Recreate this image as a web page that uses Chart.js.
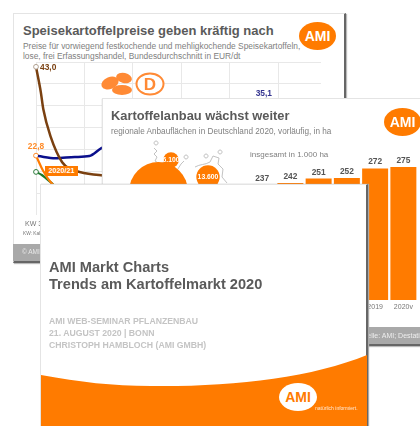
<!DOCTYPE html>
<html lang="de"><head><meta charset="utf-8">
<script src="https://cdn.jsdelivr.net/npm/chart.js@4"></script>
<style>
html,body{margin:0;padding:0;background:#fff}
#root{position:absolute;left:0;top:0;width:420px;height:426px;overflow:hidden;background:#fff;font-family:"Liberation Sans",Arial,sans-serif;filter:blur(.55px)}
#root>*{position:absolute}
.t{white-space:nowrap;line-height:1}
.box{background:#fff;box-sizing:border-box}
.logo{background:#ff7b00;border-radius:50%;color:#fff;font-weight:bold;text-align:center}
.title{font-weight:bold;color:#5a5a5a}
.sub{color:#808080}
</style></head><body>
<div id="root">
  <!-- slide 1 -->
  <div class="box" style="left:13px;top:13px;width:333px;height:250px;border:1px solid #e4e4e4;border-right:2px solid #666;border-bottom:2px solid #666;box-shadow:1px 1px 1px #bbb"></div>
  <div class="t title" style="left:23px;top:24px;font-size:13px">Speisekartoffelpreise geben kräftig nach</div>
  <div class="t sub" style="left:23px;top:42px;font-size:8.4px">Preise für vorwiegend festkochende und mehligkochende Speisekartoffeln,</div>
  <div class="t sub" style="left:23px;top:52px;font-size:8.4px">lose, frei Erfassungshandel, Bundesdurchschnitt in EUR/dt</div>
  <div class="logo t" style="left:299px;top:22px;width:37px;height:28px;line-height:28px;font-size:14px">AMI</div>
  <canvas id="lineChart" width="320" height="170" style="left:20px;top:52px"></canvas>
  <svg width="70" height="40" style="left:98px;top:66px">
    <ellipse cx="12" cy="17" rx="9" ry="6" fill="#ff8a35" transform="rotate(-22 12 17)"/>
    <ellipse cx="26" cy="12" rx="8" ry="5" fill="#ff8a35" transform="rotate(12 26 12)"/>
    <ellipse cx="24" cy="24" rx="10" ry="5" fill="#ff8a35"/>
    <ellipse cx="52" cy="18" rx="13.5" ry="10.5" fill="#fff" stroke="#ff8a35" stroke-width="2"/>
    <text x="52" y="24" font-size="17" font-weight="bold" fill="#ff8a35" text-anchor="middle" font-family="Liberation Sans">D</text>
  </svg>
  <div class="t" style="left:45px;top:166px;width:33px;height:10px;line-height:10px;background:#ff7b00;color:#fff;font-size:7.2px;font-weight:bold;text-align:center">2020/21</div>
  <div class="t" style="left:25px;top:220px;font-size:7px;color:#777">KW 33</div>
  <div class="t" style="left:23px;top:232px;font-size:4.8px;color:#777">KW: Kalenderwoche</div>
  <div style="left:13px;top:244px;width:331px;height:17px;background:#a9a9a9"></div>
  <div class="t" style="left:22px;top:249px;font-size:6.5px;color:#e8e8e8">© AMI</div>

  <!-- slide 2 -->
  <div class="box" style="left:102px;top:98px;width:330px;height:248px;border:1px solid #e4e4e4;border-bottom:2px solid #666;box-shadow:0 1px 1px #bbb"></div>
  <div class="t title" style="left:111px;top:110px;font-size:12.85px">Kartoffelanbau wächst weiter</div>
  <div class="t sub" style="left:111px;top:128px;font-size:8.2px">regionale Anbauflächen in Deutschland 2020, vorläufig, in ha</div>
  <div class="logo t" style="left:384px;top:108px;width:37px;height:28px;line-height:28px;font-size:14px">AMI</div>
  <div class="t" style="left:250px;top:151px;font-size:8px;color:#808080">insgesamt in 1.000 ha</div>
  <svg width="130" height="50" style="left:140px;top:140px" fill="none" stroke="#bbb" stroke-width=".9">
    <path d="M14,8 l3,3 -3,3 3,3 -2,4 5,3 7,-3 M16,5 a2,2 0 1 1 .1,0"/>
    <path d="M36,32 l5,-8 3,-3 M46,19 a2,2 0 1 1 .1,0"/>
    <path d="M55,27 c5,-3 10,-2 15,-5 l3,-6 6,2 -1,6 5,5 -1,8 5,6 M66,18 a2,2 0 1 1 .1,0 M80,14 a2,2 0 1 1 .1,0"/>
  </svg>
  <canvas id="bubbleChart" width="130" height="90" style="left:110px;top:140px"></canvas>
  <canvas id="barChart" width="180" height="165" style="left:240px;top:150px"></canvas>
  <div style="left:103px;top:327px;width:317px;height:17px;background:#a9a9a9"></div>
  <div class="t" style="left:358px;top:332px;font-size:7px;color:#eee">Quelle: AMI; Destatis</div>

  <!-- slide 3 -->
  <div class="box" style="left:40px;top:184px;width:328px;height:250px;border-top:1px solid #e4e4e4;border-left:1px solid #e4e4e4;border-right:2px solid #666;box-shadow:1px 0 1px #aaa"></div>
  <div class="t title" style="left:49px;top:260px;font-size:14.6px">AMI Markt Charts</div>
  <div class="t title" style="left:49px;top:277px;font-size:14.6px">Trends am Kartoffelmarkt 2020</div>
  <div class="t" style="left:49px;top:317px;font-size:8.7px;font-weight:bold;color:#c4c4c4">AMI WEB-SEMINAR PFLANZENBAU</div>
  <div class="t" style="left:49px;top:329px;font-size:8.7px;font-weight:bold;color:#c4c4c4">21. AUGUST 2020 | BONN</div>
  <div class="t" style="left:49px;top:341px;font-size:8.7px;font-weight:bold;color:#c4c4c4">CHRISTOPH HAMBLOCH (AMI GMBH)</div>
  <svg width="326" height="80" style="left:40.5px;top:350px">
    <path d="M0,25 C40,32 70,36 110,36 C190,37 270,28 326,5 L326,80 L0,80 Z" fill="#ff7b00"/>
  </svg>
  <div class="logo t" style="left:279px;top:383px;width:38px;height:28px;line-height:28px;font-size:14px;background:#fff;color:#ff7b00">AMI</div>
  <div class="t" style="left:315px;top:406px;font-size:5px;color:#ffe9d4">natürlich informiert.</div>
</div>
<script>
const FONT = '"Liberation Sans", Arial, sans-serif';

// price lines: x = week offset, y = EUR/dt
const brownWeeks = [0, 1, 1.5, 3, 5.4, 7, 9, 13, 20];
const brownValues = [43.0, 37.2, 33.4, 27.2, 21.3, 19.8, 19.1, 18.4, 18.0];
const blueWeeks = [0.4, 4, 8, 11, 13.5, 20, 30, 40, 47];
const blueValues = [22.7, 22.2, 22.5, 22.7, 24.5, 27.0, 30.0, 33.0, 35.1];
const orangeWeeks = [0, 1.5, 3, 6, 12];
const orangeValues = [22.8, 19.3, 16.8, 14.0, 13.0];
const greenWeeks = [0, 1.2, 3.5, 6, 12];
const greenValues = [19.1, 18.4, 16.3, 14.0, 12.5];
const weekTicks = [0, 10, 20, 30, 40, 50];
const priceTicks = [44.1, 39.1, 34.1, 29.1, 24.1, 19.1, 14.1];

// acreage bars
const years = ['2015', '2016', '2017', '2018', '2019', '2020v'];
const acreage = [237, 242, 251, 252, 272, 275];

// regional bubbles
const regionX = [48.5, 61, 98];
const regionY = [51.5, 20, 37];
const regionHa = [87000, 6100, 13600];
const regionText = ['', '6.100', '13.600'];

const zip = (xs, ys) => xs.map((x, i) => ({x, y: ys[i]}));
const lineDs = (xs, ys, color, w, marker) => ({
  data: zip(xs, ys), borderColor: color, borderWidth: w, cubicInterpolationMode: 'monotone',
  pointRadius: c => c.dataIndex === 0 && marker ? 2.4 : 0,
  pointBackgroundColor: '#fff', pointBorderColor: marker, pointBorderWidth: 1, clip: false
});
const pointLabels = {
  id: 'pointLabels',
  afterDatasetsDraw(chart) {
    const spec = [[0, 0, '43,0', '#7a4010', 4, 2.8, 'left'], [2, 0, '22,8', '#ff8c2a', 0, -7, 'center'], [1, 8, '35,1', '#33338f', 0, -6, 'center']];
    const c = chart.ctx; c.save(); c.font = 'bold 8.4px ' + FONT;
    for (const [ds, i, txt, col, dx, dy, al] of spec) {
      const p = chart.getDatasetMeta(ds).data[i];
      c.fillStyle = col; c.textAlign = al;
      c.fillText(txt, p.x + dx, p.y + dy);
    }
    c.restore();
  }
};
new Chart(document.getElementById('lineChart'), {
  type: 'line',
  data: {datasets: [
    lineDs(brownWeeks, brownValues, '#7a4010', 2.5, '#b0a090'),
    lineDs(blueWeeks, blueValues, '#0a0f8c', 2.5, null),
    lineDs(orangeWeeks, orangeValues, '#ff7b00', 2.2, '#ff8c2a'),
    lineDs(greenWeeks, greenValues, '#1c7a2a', 2.2, '#2b7a3a')
  ]},
  options: {
    responsive: false, animation: false, devicePixelRatio: 1,
    layout: {padding: {left: 16, right: 19, top: 10, bottom: 7}},
    plugins: {legend: {display: false}, tooltip: {enabled: false}},
    scales: {
      x: {type: 'linear', min: 0, max: 58.8,
        afterBuildTicks: a => { a.ticks = weekTicks.map(value => ({value})); },
        ticks: {display: false}, grid: {color: '#e8e8e8', lineWidth: 1, drawTicks: false}, border: {display: false}},
      y: {min: 9.3, max: 44.1,
        afterBuildTicks: a => { a.ticks = priceTicks.map(value => ({value})); },
        ticks: {display: false}, grid: {color: '#e8e8e8', lineWidth: 1, drawTicks: false}, border: {display: false}}
    }
  },
  plugins: [pointLabels]
});

const barLabels = {
  id: 'barLabels',
  afterDatasetsDraw(chart) {
    const c = chart.ctx; c.save(); c.font = 'bold 8.4px ' + FONT;
    c.fillStyle = '#555'; c.textAlign = 'center';
    chart.getDatasetMeta(0).data.forEach((b, i) => c.fillText(String(acreage[i]), b.x, b.y - 4));
    c.restore();
  }
};
new Chart(document.getElementById('barChart'), {
  type: 'bar',
  data: {labels: years, datasets: [{data: acreage, backgroundColor: '#ff7b00', barPercentage: .92, categoryPercentage: 1}]},
  options: {
    responsive: false, animation: false, devicePixelRatio: 1,
    layout: {padding: {left: 8, right: 2.5, top: 0, bottom: 0}},
    plugins: {legend: {display: false}, tooltip: {enabled: false}},
    scales: {
      x: {afterFit: a => { a.height = 15; },
        grid: {display: false, drawTicks: false}, border: {display: false},
        ticks: {font: {size: 7, family: FONT}, color: '#777', autoSkip: false, maxRotation: 0, padding: 3}},
      y: {display: false, min: 0, max: 310}
    }
  },
  plugins: [barLabels]
});

const bubbleLabels = {
  id: 'bubbleLabels',
  afterDatasetsDraw(chart) {
    const c = chart.ctx; c.save(); c.font = 'bold 6.8px ' + FONT;
    c.fillStyle = '#fff'; c.textAlign = 'center'; c.textBaseline = 'middle';
    chart.getDatasetMeta(0).data.forEach((p, i) => c.fillText(regionText[i], p.x, p.y));
    c.restore();
  }
};
new Chart(document.getElementById('bubbleChart'), {
  type: 'bubble',
  data: {datasets: [{
    data: regionX.map((x, i) => ({x, y: regionY[i], r: Math.sqrt(regionHa[i]) * .1})),
    backgroundColor: '#ff7b00', borderColor: '#ff7b00', borderWidth: 0, clip: false
  }]},
  options: {
    responsive: false, animation: false, devicePixelRatio: 1,
    layout: {autoPadding: false},
    plugins: {legend: {display: false}, tooltip: {enabled: false}},
    scales: {x: {display: false, min: 0, max: 130}, y: {display: false, min: 0, max: 90, reverse: true}}
  },
  plugins: [bubbleLabels]
});
</script>
</body></html>
